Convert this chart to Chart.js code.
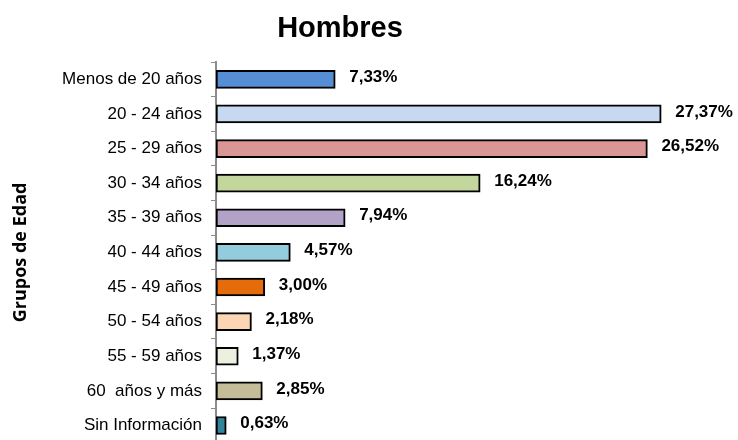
<!DOCTYPE html>
<html>
<head>
<meta charset="utf-8">
<script src="https://cdn.jsdelivr.net/npm/chart.js@4.4.0/dist/chart.umd.min.js"></script>
<style>
  html, body { margin: 0; padding: 0; background: #fff; overflow: hidden; }
</style>
</head>
<body>
<canvas id="chart-hombres" width="738" height="462"></canvas>
<script>
const categorias = ['Menos de 20 años', '20 - 24 años', '25 - 29 años', '30 - 34 años', '35 - 39 años',
  '40 - 44 años', '45 - 49 años', '50 - 54 años', '55 - 59 años', '60  años y más', 'Sin Información'];
const porcentajes = [7.33, 27.37, 26.52, 16.24, 7.94, 4.57, 3.00, 2.18, 1.37, 2.85, 0.63];
const colores = ['#558ed5', '#c6d9f1', '#d99694', '#c3d69b', '#b3a2c7', '#93cddd',
  '#e46c0a', '#fcd5b5', '#ebf1de', '#c4bd97', '#31859c'];
const titulo = 'Hombres';
const tituloEje = 'Grupos de Edad';

// etiquetas de valor y titulo
const etiquetas = {
  id: 'etiquetas',
  afterDatasetsDraw(chart) {
    const ctx = chart.ctx;
    const meta = chart.getDatasetMeta(0);
    ctx.save();
    ctx.fillStyle = '#000';
    ctx.font = 'bold 17px "Liberation Sans", Arial, sans-serif';
    ctx.textAlign = 'left';
    ctx.textBaseline = 'middle';
    meta.data.forEach((bar, i) => {
      const txt = porcentajes[i].toFixed(2).replace('.', ',') + '%';
      ctx.fillText(txt, bar.x + 14, bar.y - 2);
    });
    ctx.font = 'bold 29px "Liberation Sans", Arial, sans-serif';
    ctx.textAlign = 'center';
    ctx.textBaseline = 'alphabetic';
    ctx.fillText(titulo, 340, 37);
    ctx.restore();
  }
};

new Chart(document.getElementById('chart-hombres').getContext('2d'), {
  type: 'bar',
  data: {
    labels: categorias,
    datasets: [{
      data: porcentajes,
      backgroundColor: colores,
      borderColor: '#000',
      borderWidth: 2,
      borderSkipped: false,
      barThickness: 18
    }]
  },
  options: {
    indexAxis: 'y',
    responsive: false,
    animation: false,
    layout: { padding: { top: 62, right: 34, left: 5, bottom: 3 } },
    plugins: {
      legend: { display: false },
      tooltip: { enabled: false }
    },
    scales: {
      x: { display: false, min: 0, max: 30 },
      y: {
        afterFit(scale) { scale.width = 211; },
        grid: { drawOnChartArea: false, tickLength: 5, color: '#8c8c8c', offset: true },
        border: { color: '#8c8c8c', width: 2 },
        ticks: { color: '#000', padding: 9, font: { family: '"Liberation Sans", Arial, sans-serif', size: 17 } },
        title: {
          display: true,
          text: tituloEje,
          color: '#000',
          padding: { top: 5, bottom: 0 },
          font: { family: '"Open Sans", sans-serif', size: 18, weight: 'bold' }
        }
      }
    }
  },
  plugins: [etiquetas]
});
</script>
</body>
</html>
